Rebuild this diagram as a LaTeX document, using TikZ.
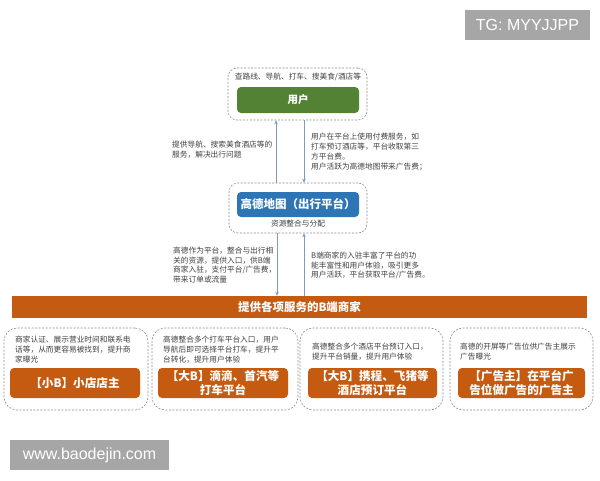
\documentclass[tikz,border=0pt]{standalone}
\usepackage{fontspec}
\setmainfont{Noto Sans CJK SC}
\newfontfamily\latinfont{Liberation Sans}
\usetikzlibrary{arrows.meta}
\definecolor{ugreen}{HTML}{548235}
\definecolor{ublue}{HTML}{2E75B6}
\definecolor{uorange}{HTML}{C55A11}
\definecolor{dgray}{HTML}{8C8C8C}
\definecolor{txt}{HTML}{404040}
\definecolor{arrc}{HTML}{7F9CC0}
\definecolor{wm}{HTML}{A6A6A6}
\tikzset{
  outerbox/.style={draw=dgray, line width=0.6pt, dash pattern=on 2pt off 1.5pt, rounded corners=9pt, inner sep=0pt},
  fillbox/.style={rounded corners=4pt, inner sep=0pt, text=white, font=\bfseries},
  smalltxt/.style={inner sep=0pt, align=left, text=txt, font=\fontsize{7.7}{9.8}\selectfont},
  arr/.style={draw=arrc, line width=0.7pt, -{Stealth[length=4pt,width=3.5pt]}},
  wmbox/.style={fill=wm, text=white, inner sep=0pt, font=\latinfont\fontsize{16}{18}\selectfont}
}
\begin{document}
\begin{tikzpicture}[x=1pt,y=-1pt]
\useasboundingbox (0,0) rectangle (600,480);
% watermarks
\node[wmbox, minimum width=125pt, minimum height=30pt] (tg) at (527.5,25) {TG: MYYJJPP};
\node[wmbox, minimum width=159pt, minimum height=30pt] (www) at (89.5,455) {www.baodejin.com};
% user
\node[outerbox, minimum width=139pt, minimum height=52pt] (userout) at (297.5,94) {};
\node[smalltxt] (usertop) at (298,77) {查路线、导航、打车、搜美食/酒店等};
\node[fillbox, fill=ugreen, minimum width=122pt, minimum height=26pt, font=\bfseries\fontsize{10.5}{12}\selectfont] (user) at (298,100) {用户};
% platform
\node[outerbox, minimum width=138pt, minimum height=50pt] (platout) at (298,208) {};
\node[fillbox, fill=ublue, minimum width=122pt, minimum height=25pt, font=\bfseries\fontsize{11.5}{13}\selectfont] (plat) at (298,204.5) {高德地图（出行平台）};
\node[smalltxt] (platsub) at (298,224) {资源整合与分配};
% bar
\node[fill=uorange, inner sep=0pt, minimum width=575pt, minimum height=22pt, text=white, font=\bfseries\fontsize{11.5}{13}\selectfont] (bar) at (299.5,307) {提供各项服务的B端商家};
% arrows user <-> platform
\draw[arr] ([xshift=-22pt]platout.north) -- ([xshift=-21.5pt]userout.south);
\draw[arr] ([xshift=6.5pt]userout.south) -- ([xshift=6pt]platout.north);
% arrows platform <-> bar
\draw[arr] ([xshift=-21pt]platout.south) -- (bar.north -| 277,0);
\draw[arr] (bar.north -| 304,0) -- ([xshift=6pt]platout.south);
% arrow labels
\node[smalltxt, anchor=north west] (t1) at (172,141) {提供导航、搜索美食酒店等的\\服务，解决出行问题};
\node[smalltxt, anchor=north west] (t2) at (311,133) {用户在平台上使用付费服务，如\\打车预订酒店等，平台收取第三\\方平台费。\\用户活跃为高德地图带来广告费；};
\node[smalltxt, anchor=north west] (t3) at (173,246.5) {高德作为平台，整合与出行相\\关的资源，提供入口，供B端\\商家入驻，支付平台/广告费，\\带来订单或流量};
\node[smalltxt, anchor=north west] (t4) at (311,251.5) {B端商家的入驻丰富了平台的功\\能丰富性和用户体验，吸引更多\\用户活跃，平台获取平台/广告费。};
% bottom boxes
\node[outerbox, rounded corners=13pt, minimum width=144pt, minimum height=82pt] (b1) at (76,369) {};
\node[outerbox, rounded corners=13pt, minimum width=146pt, minimum height=82pt] (b2) at (225,369) {};
\node[outerbox, rounded corners=13pt, minimum width=143pt, minimum height=82pt] (b3) at (371.5,369) {};
\node[outerbox, rounded corners=13pt, minimum width=143pt, minimum height=82pt] (b4) at (521.5,369) {};
\node[smalltxt, anchor=north west] (d1) at (15,336) {商家认证、展示营业时间和联系电\\话等，从而更容易被找到，提升商\\家曝光};
\node[smalltxt, anchor=north west] (d2) at (163,336) {高德整合多个打车平台入口，用户\\导航后即可选择平台打车，提升平\\台转化，提升用户体验};
\node[smalltxt, anchor=north west] (d3) at (312,343) {高德整合多个酒店平台预订入口，\\提升平台销量，提升用户体验};
\node[smalltxt, anchor=north west] (d4) at (460,343) {高德的开屏等广告位供广告主展示\\广告曝光};
\tikzset{inbox/.style={fillbox, fill=uorange, minimum height=30pt, align=center, font=\bfseries\fontsize{11.6}{13.5}\selectfont}}
\node[inbox, minimum width=130pt] (i1) at (75,383) {【小B】小店店主};
\node[inbox, minimum width=130pt] (i2) at (223,383) {【大B】滴滴、首汽等\\打车平台};
\node[inbox, minimum width=129pt] (i3) at (372.5,383) {【大B】携程、飞猪等\\酒店预订平台};
\node[inbox, minimum width=127pt] (i4) at (521.5,383) {【广告主】在平台广\\告位做广告的广告主};
\end{tikzpicture}
\end{document}
